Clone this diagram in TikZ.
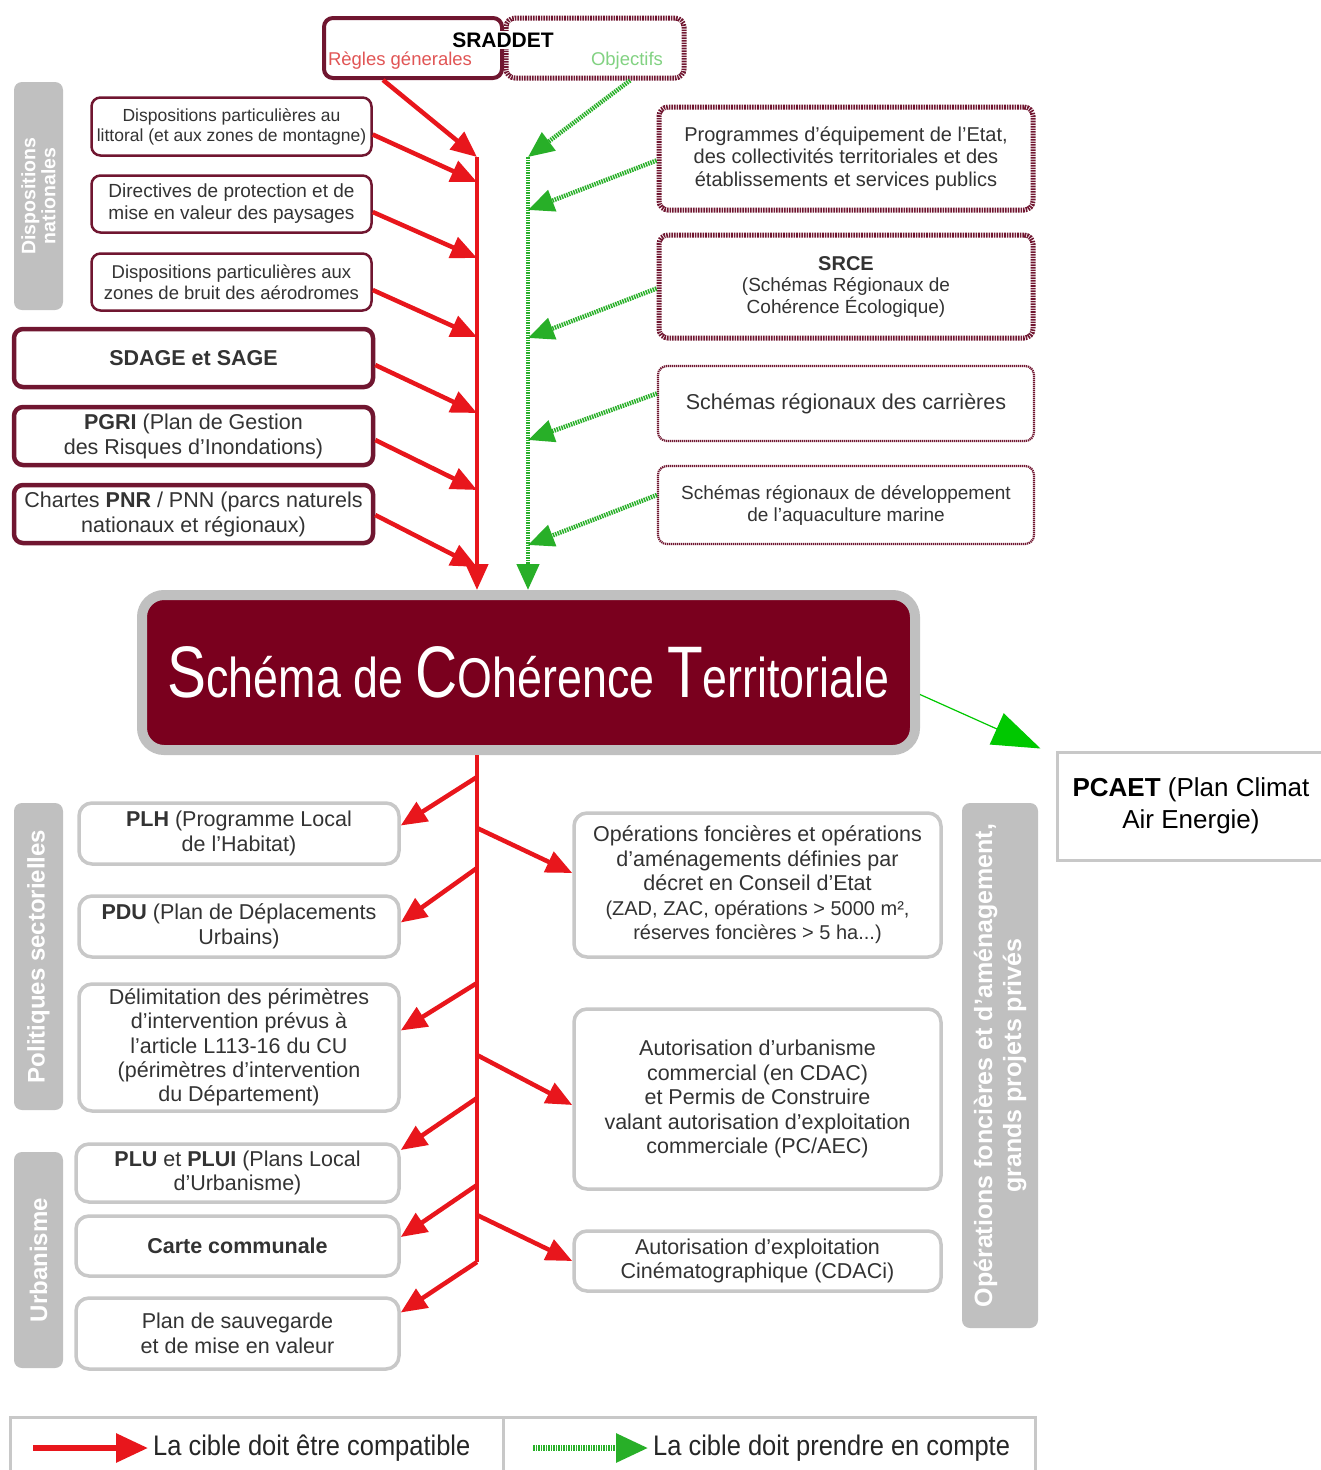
\documentclass[tikz,border=0pt]{standalone}
\usepackage{fontspec}
\setmainfont{Liberation Sans}
\newfontfamily\scotfont{Liberation Sans}[FakeStretch=0.8]
\newfontfamily\legfont{Liberation Sans}[FakeStretch=0.9]
\usetikzlibrary{arrows.meta}
\newcommand\fsz[2]{\fontsize{#1}{#2}\selectfont}
\definecolor{maroon}{RGB}{112,22,48}
\definecolor{scotred}{RGB}{122,0,30}
\definecolor{arrred}{RGB}{232,22,28}
\definecolor{arrgreen}{RGB}{40,175,40}
\definecolor{brightgreen}{RGB}{0,200,0}
\definecolor{lblgray}{RGB}{192,192,192}
\definecolor{boxgray}{RGB}{200,200,200}
\definecolor{txt}{RGB}{51,51,51}
\definecolor{regles}{RGB}{225,85,85}
\definecolor{objectifs}{RGB}{130,210,130}
\begin{document}
\begin{tikzpicture}[x=1pt,y=-1pt,
  thinm/.style={draw=maroon, line width=2.5pt, rounded corners=9pt, fill=white, align=center, text=txt, inner sep=0pt},
  thickm/.style={thinm, line width=4.5pt},
  dotm/.style={thinm, line width=5pt, dash pattern=on 1.6pt off 1pt},
  dotthin/.style={thinm, line width=2.2pt, dash pattern=on 1.2pt off 0.8pt},
  grayb/.style={draw=boxgray, line width=3.5pt, rounded corners=13pt, fill=white, align=center, text=txt, inner sep=0pt},
  glabel/.style={fill=lblgray, rounded corners=8pt, text=white, align=center, rotate=90, inner sep=0pt},
  redarr/.style={draw=arrred, line width=4.5pt, -{Triangle[length=26pt,width=22pt]}},
  redline/.style={draw=arrred, line width=4.5pt},
  greenarr/.style={draw=arrgreen, line width=4.5pt, dash pattern=on 1.5pt off 1pt, -{Triangle[length=26pt,width=22pt]}},
  greenline/.style={draw=arrgreen, line width=4.5pt, dash pattern=on 1.5pt off 1pt},
  pcarr/.style={draw=brightgreen, line width=1.2pt, -{Triangle[length=48pt,width=34pt]}},
  legbox/.style={draw=boxgray, line width=3pt, fill=white, inner sep=0pt},
  legtext/.style={font=\legfont\fsz{28.3}{30}, text=black!85, anchor=west, inner sep=0pt}
]
\fill[white] (0,0) rectangle (1321,1470);
\useasboundingbox (0,0) rectangle (1321,1470);

% ---------- SRADDET ----------
\node[dotm, minimum width=178pt, minimum height=60pt] (sraR) at (595,48) {};
\node[thickm, line width=4pt, minimum width=178pt, minimum height=60pt] (sraL) at (413,48) {};
\node[font=\bfseries\fsz{21}{24}, text=black, fill=white, inner sep=1.5pt] (sratitle) at (503,40) {SRADDET};
\node[font=\fsz{18.5}{20}, text=regles] (regles) at (400,61) {Règles génerales};
\node[font=\fsz{18.5}{20}, text=objectifs] (obj) at (627,61) {Objectifs};

% ---------- side labels ----------
\node[glabel, font=\bfseries\fsz{19.5}{20}, minimum width=228pt, minimum height=49pt] (g1) at (38.5,196) {Dispositions\\nationales};
\node[glabel, font=\bfseries\fsz{24}{28}, minimum width=307pt, minimum height=49pt] (g2) at (38.5,956.5) {Politiques sectorielles};
\node[glabel, font=\bfseries\fsz{24}{28}, minimum width=216pt, minimum height=49pt] (g3) at (38.5,1260) {Urbanisme};
\node[glabel, font=\bfseries\fsz{25}{29}, minimum width=525pt, minimum height=76pt] (g4) at (1000,1065.5) {Opérations foncières et d'aménagement,\\grands projets privés};

% ---------- top left boxes ----------
\node[thinm, font=\fsz{17.5}{20}, minimum width=280pt, minimum height=58pt] (b1) at (231.5,126.5) {Dispositions particulières au\\littoral (et aux zones de montagne)};
\node[thinm, font=\fsz{19}{22}, minimum width=280pt, minimum height=57pt] (b2) at (231.5,204) {Directives de protection et de\\mise en valeur des paysages};
\node[thinm, font=\fsz{18.5}{21}, minimum width=280pt, minimum height=57pt] (b3) at (231.5,282) {Dispositions particulières aux\\zones de bruit des aérodromes};
\node[thickm, font=\bfseries\fsz{21.5}{25}, minimum width=359pt, minimum height=58pt] (b4) at (193.5,358) {SDAGE et SAGE};
\node[thickm, font=\fsz{21.5}{25}, minimum width=359pt, minimum height=58pt] (b5) at (193.5,436) {\textbf{PGRI} (Plan de Gestion\\des Risques d'Inondations)};
\node[thickm, font=\fsz{21.5}{25}, minimum width=359pt, minimum height=58pt] (b6) at (193.5,514) {Chartes \textbf{PNR} / PNN (parcs naturels\\nationaux et régionaux)};

% ---------- top right boxes ----------
\node[dotm, font=\fsz{20}{22.5}, minimum width=374pt, minimum height=103pt] (r1) at (846,158.5) {Programmes d'équipement de l'Etat,\\des collectivités territoriales et des\\établissements et services publics};
\node[dotm, font=\fsz{19}{21.5}, minimum width=374pt, minimum height=103pt] (r2) at (846,286.5) {{\bfseries\fsz{20}{21.5}SRCE}\\(Schémas Régionaux de\\Cohérence Écologique)};
\node[dotthin, font=\fsz{21.5}{24}, minimum width=376pt, minimum height=75pt] (r3) at (846,403.5) {Schémas régionaux des carrières};
\node[dotthin, font=\fsz{19}{22}, minimum width=376pt, minimum height=78pt] (r4) at (846,505) {Schémas régionaux de développement\\de l'aquaculture marine};

% ---------- SCoT ----------
\node[draw=lblgray, line width=10pt, fill=scotred, rounded corners=22pt, minimum width=773pt, minimum height=155pt, inner sep=0pt, text=white, font=\scotfont] (scot) at (528.5,672.5)
 {\fsz{73}{73}S\fsz{56}{56}chéma de \fsz{73}{73}C\fsz{56}{56}Ohérence \fsz{73}{73}T\fsz{56}{56}erritoriale};

% ---------- PCAET ----------
\node[draw=boxgray, line width=3pt, fill=white, minimum width=268pt, minimum height=108pt, align=center, font=\fsz{26}{32}, text=black, inner sep=0pt] (pcaet) at (1191,806) {\textbf{PCAET} (Plan Climat\\Air Energie)};

% ---------- bottom left boxes ----------
\node[grayb, font=\fsz{21.5}{24.5}, minimum width=320pt, minimum height=61pt] (l1) at (239,833.5) {\textbf{PLH} (Programme Local\\de l'Habitat)};
\node[grayb, font=\fsz{21.5}{24.5}, minimum width=320pt, minimum height=61pt] (l2) at (239,926.5) {\textbf{PDU} (Plan de Déplacements\\Urbains)};
\node[grayb, font=\fsz{21.5}{24.3}, minimum width=320pt, minimum height=127pt] (l3) at (239,1047.5) {Délimitation des périmètres\\d'intervention prévus à\\l'article L113-16 du CU\\(périmètres d'intervention\\du Département)};
\node[grayb, font=\fsz{21.5}{24.5}, minimum width=323pt, minimum height=58pt] (l4) at (237.5,1173) {\textbf{PLU} et \textbf{PLUI} (Plans Local\\d'Urbanisme)};
\node[grayb, font=\bfseries\fsz{21.5}{24.5}, minimum width=323pt, minimum height=60pt] (l5) at (237.5,1246) {Carte communale};
\node[grayb, font=\fsz{21.5}{24.5}, minimum width=323pt, minimum height=71pt] (l6) at (237.5,1333.5) {Plan de sauvegarde\\et de mise en valeur};

% ---------- bottom right boxes ----------
\node[grayb, font=\fsz{21.5}{24.5}, minimum width=367pt, minimum height=144pt] (o1) at (757.5,885) {Opérations foncières et opérations\\d'aménagements définies par\\décret en Conseil d'Etat\\{\fsz{20}{24}(ZAD, ZAC, opérations > 5000 m²,}\\{\fsz{20}{24}réserves foncières > 5 ha...)}};
\node[grayb, font=\fsz{21.5}{24.5}, minimum width=367pt, minimum height=180pt] (o2) at (757.5,1099) {Autorisation d'urbanisme\\commercial (en CDAC)\\et Permis de Construire\\valant autorisation d'exploitation\\commerciale (PC/AEC)};
\node[grayb, font=\fsz{21.5}{24}, minimum width=367pt, minimum height=60pt] (o3) at (757.5,1261) {Autorisation d'exploitation\\Cinématographique (CDACi)};

% ---------- legend ----------
\node[legbox, minimum width=493pt, minimum height=56pt] (legL) at (256.5,1445) {};
\node[legbox, minimum width=532pt, minimum height=56pt] (legR) at (769.5,1445) {};
\node[legtext] (legLt) at (153,1448) {La cible doit être compatible};
\node[legtext] (legRt) at (653,1448) {La cible doit prendre en compte};
\coordinate (la1) at (33,1448);
\coordinate (la2) at (148,1448);
\coordinate (ga1) at (533,1448);
\coordinate (ga2) at (648,1448);
\draw[redarr, line width=6pt, -{Triangle[length=32pt,width=28pt]}] (la1) -- (la2);
\draw[greenarr, line width=6pt, -{Triangle[length=32pt,width=28pt]}] (ga1) -- (ga2);

% ---------- trunk coordinates ----------
\coordinate (rt0) at (477,157);
\coordinate (rt1) at (477,182);
\coordinate (rt2) at (477,258);
\coordinate (rt3) at (477,337);
\coordinate (rt4) at (477,413);
\coordinate (rt5) at (477,490);
\coordinate (rt6) at (477,567);
\coordinate (gt0) at (528,157);
\coordinate (gt1) at (528,210);
\coordinate (gt2) at (528,338);
\coordinate (gt3) at (528,440);
\coordinate (gt4) at (528,545);

% red trunk (top)
\draw[redarr] (rt0) -- (rt0 |- scot.north);
\draw[redarr] ([xshift=-30pt]sraL.south) -- (rt0);
\draw[redarr] ([yshift=-8pt]b1.east) -- (rt1);
\draw[redarr] ([yshift=-8pt]b2.east) -- (rt2);
\draw[redarr] ([yshift=-8pt]b3.east) -- (rt3);
\draw[redarr] ([yshift=-7pt]b4.east) -- (rt4);
\draw[redarr] ([yshift=-4pt]b5.east) -- (rt5);
\draw[redarr] ([yshift=-1pt]b6.east) -- (rt6);

% green trunk (top)
\draw[greenarr] (gt0) -- (gt0 |- scot.north);
\draw[greenarr] ([xshift=35pt]sraR.south) -- (gt0);
\draw[greenarr] ([yshift=-2pt]r1.west) -- (gt1);
\draw[greenarr] ([yshift=-2pt]r2.west) -- (gt2);
\draw[greenarr] ([yshift=10pt]r3.west) -- (gt3);
\draw[greenarr] ([yshift=10pt]r4.west) -- (gt4);

% PCAET arrow
\draw[pcarr] ([yshift=-22pt]scot.east) -- ([xshift=-15pt,yshift=2pt]pcaet.north west);

% bottom trunk
\coordinate (lb1) at (477,777);
\coordinate (lb2) at (477,868);
\coordinate (lb3) at (477,983);
\coordinate (lb4) at (477,1098);
\coordinate (lb5) at (477,1185);
\coordinate (lb6) at (477,1262);
\coordinate (rb1) at (477,828);
\coordinate (rb2) at (477,1055);
\coordinate (rb3) at (477,1215);
\draw[redline] (lb6 |- scot.south) -- (lb6);
\draw[redarr] (lb1) -- ([yshift=8pt]l1.east);
\draw[redarr] (lb2) -- ([yshift=4pt]l2.east);
\draw[redarr] (lb3) -- ([yshift=17pt]l3.east);
\draw[redarr] (lb4) -- ([yshift=23pt]l4.east);
\draw[redarr] (lb5) -- ([yshift=9pt]l5.east);
\draw[redarr] (lb6) -- ([yshift=21pt]l6.east);
\draw[redarr] (rb1) -- ([yshift=12pt]o1.west);
\draw[redarr] (rb2) -- ([yshift=-6pt]o2.west);
\draw[redarr] (rb3) -- (o3.west);
\end{tikzpicture}
\end{document}
